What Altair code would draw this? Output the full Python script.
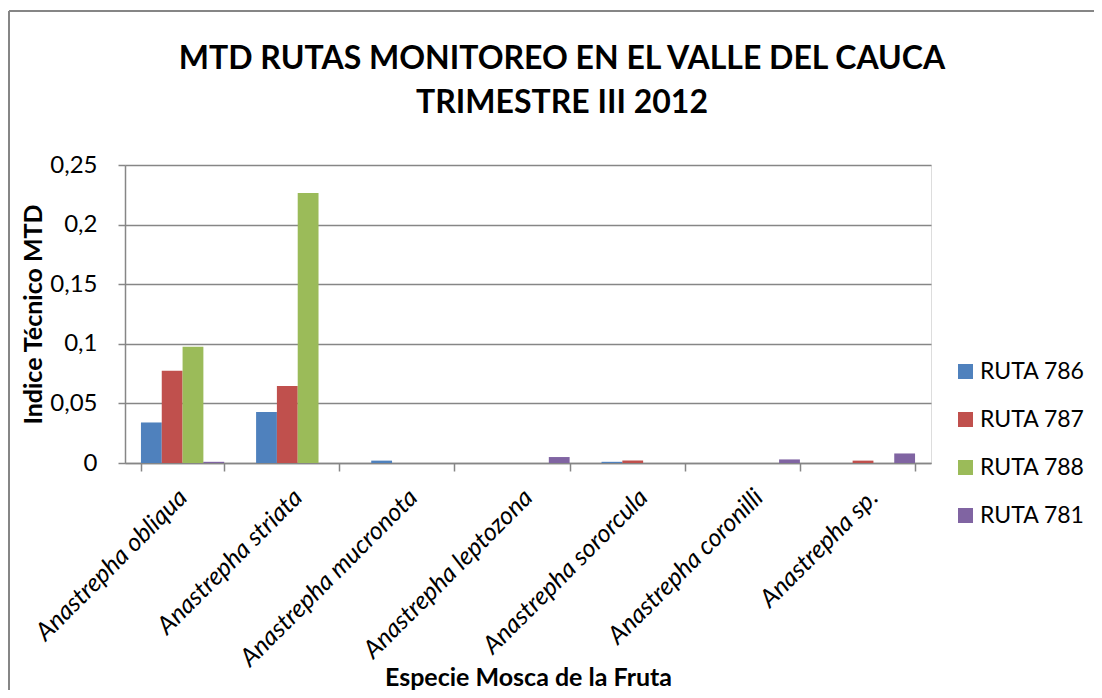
import altair as alt
import pandas as pd

species = ["Anastrepha obliqua", "Anastrepha striata", "Anastrepha mucronota",
           "Anastrepha leptozona", "Anastrepha sororcula", "Anastrepha coronilli",
           "Anastrepha sp."]
routes = ["RUTA 786", "RUTA 787", "RUTA 788", "RUTA 781"]
ruta_786 = [0.034, 0.0428, 0.002, 0.0, 0.001, 0.0, 0.0]
ruta_787 = [0.0774, 0.0646, 0.0, 0.0, 0.002, 0.0, 0.002]
ruta_788 = [0.0976, 0.2265, 0.0, 0.0, 0.0, 0.0, 0.0]
ruta_781 = [0.001, 0.0, 0.0, 0.005, 0.0, 0.003, 0.008]
colors = ["#4F81BD", "#C0504D", "#9BBB59", "#8064A2"]
y_ticks = [0, 0.05, 0.1, 0.15, 0.2, 0.25]
title_lines = ["MTD RUTAS MONITOREO EN EL VALLE DEL CAUCA", "TRIMESTRE III 2012"]

rows = []
for r, vals in zip(routes, [ruta_786, ruta_787, ruta_788, ruta_781]):
    for s, v in zip(species, vals):
        rows.append({"Especie": s, "Ruta": r, "MTD": v})
df = pd.DataFrame(rows)

FONT = "Lato"
GRAY = "#868686"

bars = alt.Chart(df).mark_bar().encode(
    x=alt.X("Especie:N", sort=species,
            scale=alt.Scale(paddingInner=0.277, paddingOuter=0.1385),
            axis=alt.Axis(title="Especie Mosca de la Fruta", labelAngle=-45,
                          labelAlign="right", labelBaseline="middle",
                          labelPadding=22, labelFontStyle="italic",
                          labelFont=FONT, labelFontSize=25, labelColor="#000000",
                          labelOverlap=False, labelLimit=0, labelBound=False,
                          tickBand="extent", tickSize=8, tickColor=GRAY, tickWidth=1.5,
                          domainColor=GRAY, domainWidth=1.5,
                          titleFont=FONT, titleFontSize=25, titleFontWeight="bold",
                          titleColor="#000000", titleY=227, titleBaseline="bottom")),
    xOffset=alt.XOffset("Ruta:N", sort=routes),
    y=alt.Y("MTD:Q", scale=alt.Scale(domain=[0, 0.25], nice=False),
            axis=alt.Axis(title="Indice Técnico MTD", values=y_ticks,
                          labelExpr="replace(format(datum.value, '~g'), '.', ',')",
                          labelFont=FONT, labelFontSize=24, labelColor="#000000",
                          labelPadding=21, tickSize=7, tickColor=GRAY, tickWidth=1.5,
                          domainColor=GRAY, domainWidth=1.5,
                          grid=True, gridColor=GRAY, gridWidth=1.5,
                          titleFont=FONT, titleFontSize=25, titleFontWeight="bold",
                          titleColor="#000000", titleX=-92, titleBaseline="middle")),
    color=alt.Color("Ruta:N", sort=routes,
                    scale=alt.Scale(domain=routes, range=colors),
                    legend=alt.Legend(title=None, orient="none", legendX=829, legendY=195,
                                      symbolType="square", symbolSize=225,
                                      symbolStrokeWidth=0, symbolOpacity=1,
                                      labelFont=FONT, labelFontSize=23,
                                      labelColor="#000000", labelOffset=3,
                                      rowPadding=24)),
)

frame_left = alt.Chart(df).mark_rule(color=GRAY, strokeWidth=2).encode(
    x=alt.value(-116), y=alt.value(-154), y2=alt.value(600))
frame_top = alt.Chart(df).mark_rule(color=GRAY, strokeWidth=2).encode(
    x=alt.value(-116), x2=alt.value(1000), y=alt.value(-154))

title1 = alt.Chart(pd.DataFrame({"t": [title_lines[0]]})).mark_text(
    font=FONT, fontSize=32, fontWeight="bold", color="#000000",
    align="center", baseline="alphabetic").encode(
    text="t:N", x=alt.value(437), y=alt.value(-96))
title2 = alt.Chart(pd.DataFrame({"t": [title_lines[1]]})).mark_text(
    font=FONT, fontSize=32, fontWeight="bold", color="#000000",
    align="center", baseline="alphabetic").encode(
    text="t:N", x=alt.value(437), y=alt.value(-52))

chart = alt.layer(frame_left, frame_top, bars, title1, title2).properties(
    width=806, height=298,
    autosize=alt.AutoSizeParams(type="none"),
    padding={"left": 117, "top": 157, "right": 163, "bottom": 227},
).configure_view(fill="#FCD5B5", stroke=None).configure(background="white")

chart.save("out.html", embed_options={"renderer": "svg", "actions": False})
